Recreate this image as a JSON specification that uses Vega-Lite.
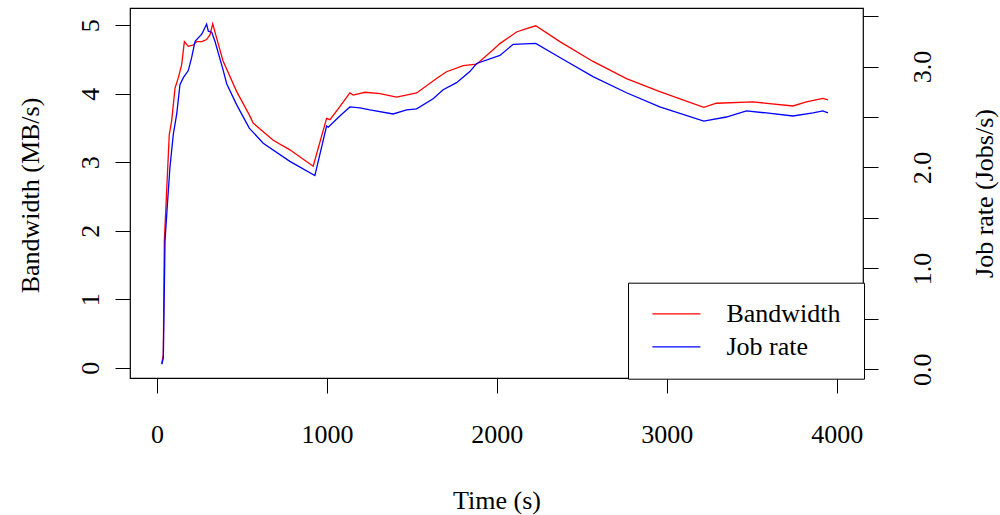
{
  "$schema": "https://vega.github.io/schema/vega-lite/v6.json",
  "autosize": "none",
  "width": 733,
  "height": 370,
  "padding": {"left": 130, "top": 8, "right": 137, "bottom": 137},
  "background": "white",
  "datasets": {
    "bw": [
      {"t": 28, "v": 0.06}, {"t": 37, "v": 0.19}, {"t": 43, "v": 1.85}, {"t": 53, "v": 2.38},
      {"t": 72, "v": 3.40}, {"t": 86, "v": 3.60}, {"t": 96, "v": 3.84}, {"t": 106, "v": 4.08},
      {"t": 125, "v": 4.23}, {"t": 145, "v": 4.42}, {"t": 161, "v": 4.76}, {"t": 184, "v": 4.69},
      {"t": 214, "v": 4.71}, {"t": 234, "v": 4.76}, {"t": 263, "v": 4.76}, {"t": 292, "v": 4.79},
      {"t": 312, "v": 4.86}, {"t": 328, "v": 5.02}, {"t": 351, "v": 4.81}, {"t": 388, "v": 4.48},
      {"t": 469, "v": 4.03}, {"t": 543, "v": 3.69}, {"t": 566, "v": 3.57}, {"t": 684, "v": 3.32},
      {"t": 782, "v": 3.18}, {"t": 919, "v": 2.94}, {"t": 998, "v": 3.64}, {"t": 1018, "v": 3.62},
      {"t": 1076, "v": 3.81}, {"t": 1135, "v": 4.01}, {"t": 1155, "v": 3.98}, {"t": 1224, "v": 4.02},
      {"t": 1312, "v": 4.00}, {"t": 1410, "v": 3.95}, {"t": 1528, "v": 4.01}, {"t": 1645, "v": 4.22},
      {"t": 1704, "v": 4.32}, {"t": 1802, "v": 4.41}, {"t": 1881, "v": 4.43}, {"t": 1978, "v": 4.64},
      {"t": 2018, "v": 4.73}, {"t": 2116, "v": 4.90}, {"t": 2175, "v": 4.95}, {"t": 2229, "v": 4.99},
      {"t": 2371, "v": 4.76}, {"t": 2566, "v": 4.47}, {"t": 2763, "v": 4.22}, {"t": 2959, "v": 4.03},
      {"t": 3218, "v": 3.80}, {"t": 3292, "v": 3.86}, {"t": 3508, "v": 3.88}, {"t": 3743, "v": 3.82},
      {"t": 3822, "v": 3.88}, {"t": 3919, "v": 3.93}, {"t": 3949, "v": 3.91}
    ],
    "jr": [
      {"t": 28, "v": 0.05}, {"t": 37, "v": 0.11}, {"t": 47, "v": 1.27}, {"t": 61, "v": 1.63},
      {"t": 76, "v": 2.00}, {"t": 96, "v": 2.33}, {"t": 116, "v": 2.53}, {"t": 135, "v": 2.82},
      {"t": 155, "v": 2.89}, {"t": 184, "v": 2.96}, {"t": 204, "v": 3.09}, {"t": 224, "v": 3.25},
      {"t": 263, "v": 3.32}, {"t": 292, "v": 3.42}, {"t": 302, "v": 3.35}, {"t": 322, "v": 3.34},
      {"t": 341, "v": 3.25}, {"t": 390, "v": 2.96}, {"t": 410, "v": 2.83}, {"t": 469, "v": 2.62},
      {"t": 543, "v": 2.39}, {"t": 625, "v": 2.24}, {"t": 782, "v": 2.06}, {"t": 929, "v": 1.92},
      {"t": 998, "v": 2.41}, {"t": 1008, "v": 2.40}, {"t": 1076, "v": 2.51}, {"t": 1135, "v": 2.60},
      {"t": 1194, "v": 2.59}, {"t": 1253, "v": 2.57}, {"t": 1390, "v": 2.53}, {"t": 1469, "v": 2.57},
      {"t": 1528, "v": 2.58}, {"t": 1625, "v": 2.68}, {"t": 1684, "v": 2.77}, {"t": 1763, "v": 2.84},
      {"t": 1841, "v": 2.95}, {"t": 1881, "v": 3.03}, {"t": 2018, "v": 3.11}, {"t": 2096, "v": 3.22},
      {"t": 2229, "v": 3.23}, {"t": 2371, "v": 3.09}, {"t": 2566, "v": 2.90}, {"t": 2763, "v": 2.74},
      {"t": 2959, "v": 2.60}, {"t": 3218, "v": 2.46}, {"t": 3351, "v": 2.50}, {"t": 3469, "v": 2.56},
      {"t": 3586, "v": 2.54}, {"t": 3743, "v": 2.51}, {"t": 3861, "v": 2.54}, {"t": 3919, "v": 2.56},
      {"t": 3949, "v": 2.54}
    ]
  },
  "layer": [
    {
      "data": {"name": "bw"},
      "transform": [{"calculate": "'Bandwidth'", "as": "series"}],
      "mark": {"type": "line", "strokeWidth": 1.3, "clip": true},
      "encoding": {
        "x": {
          "field": "t", "type": "quantitative",
          "scale": {"domain": [-159, 4155], "nice": false, "zero": false},
          "axis": {
            "title": "Time (s)", "values": [0, 1000, 2000, 3000, 4000], "format": "d",
            "labelPadding": 41, "labelBaseline": "middle", "labelAlign": "center",
            "titleX": 366.5, "titleY": 122, "titleBaseline": "middle", "titleAlign": "center"
          }
        },
        "y": {
          "field": "v", "type": "quantitative",
          "scale": {"domain": [-0.15, 5.25], "nice": false, "zero": false},
          "axis": {
            "title": "Bandwidth (MB/s)", "orient": "left", "values": [0, 1, 2, 3, 4, 5],
            "labelAngle": -90, "labelAlign": "center", "labelBaseline": "middle", "labelPadding": 25,
            "titleAngle": -90, "titleX": -100, "titleY": 187, "titleAlign": "center", "titleBaseline": "middle"
          }
        },
        "color": {
          "field": "series", "type": "nominal",
          "scale": {"domain": ["Bandwidth", "Job rate"], "range": ["#FF0000", "#0000FF"]},
          "legend": {
            "title": "\u00a0", "titleOrient": "right", "titleFontSize": 2, "titlePadding": 8,
            "orient": "none", "legendX": 498, "legendY": 274.7,
            "strokeColor": "black", "fillColor": "white", "padding": 14.8,
            "symbolType": "stroke", "symbolSize": 2304, "symbolStrokeWidth": 1.3, "symbolOffset": 8.6,
            "labelFont": "Liberation Serif", "labelFontSize": 26, "labelColor": "black",
            "labelOffset": 25, "rowPadding": 0, "clipHeight": 32.7, "cornerRadius": 0
          }
        }
      }
    },
    {
      "data": {"name": "jr"},
      "transform": [{"calculate": "'Job rate'", "as": "series"}],
      "mark": {"type": "line", "strokeWidth": 1.3, "clip": true},
      "encoding": {
        "x": {"field": "t", "type": "quantitative"},
        "y": {
          "field": "v", "type": "quantitative",
          "scale": {"domain": [-0.086, 3.58], "nice": false, "zero": false},
          "axis": {
            "title": "Job rate (Jobs/s)", "orient": "right", "values": [0, 0.5, 1, 1.5, 2, 2.5, 3, 3.5],
            "labelExpr": "datum.value % 1 === 0 ? format(datum.value, '.1f') : ''",
            "labelAngle": -90, "labelAlign": "center", "labelBaseline": "middle", "labelPadding": 44,
            "titleAngle": -90, "titleX": 121, "titleY": 185, "titleAlign": "center", "titleBaseline": "middle"
          }
        },
        "color": {"field": "series", "type": "nominal"}
      }
    }
  ],
  "resolve": {"scale": {"y": "independent"}, "axis": {"y": "independent"}},
  "config": {
    "view": {"stroke": "black", "strokeWidth": 1.2},
    "axis": {
      "domain": false, "grid": false, "ticks": true, "tickSize": 15, "tickColor": "black", "tickWidth": 1,
      "labelFont": "Liberation Serif", "labelFontSize": 26, "labelColor": "black", "labelOverlap": false,
      "titleFont": "Liberation Serif", "titleFontSize": 26, "titleFontWeight": "normal", "titleColor": "black"
    }
  }
}
